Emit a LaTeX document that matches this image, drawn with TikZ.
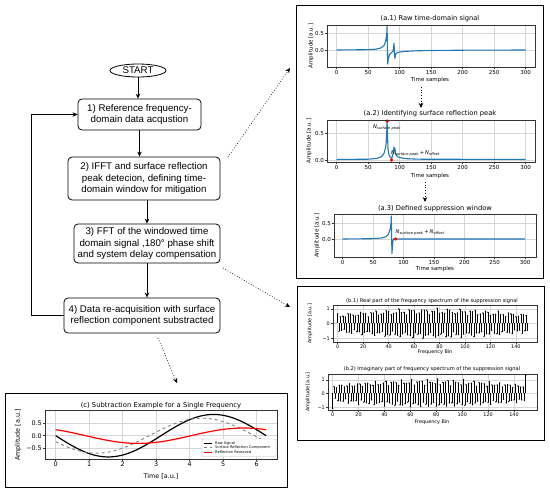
\documentclass[tikz,border=0pt]{standalone}
\usepackage{fontspec}
\setmainfont{Liberation Sans}
\newfontfamily\mpl{DejaVu Sans}
\usetikzlibrary{shapes.geometric,arrows.meta}
\definecolor{mplblue}{HTML}{1F77B4}
\definecolor{gridc}{gray}{0.84}
\begin{document}
\begin{tikzpicture}[x=1pt,y=-1pt,
  fbox/.style={draw, line width=0.8pt, rounded corners=4pt, align=center, font=\fontsize{9.7}{11.7}\selectfont, inner sep=1pt},
  flow/.style={-{Stealth[length=5pt,width=4.5pt]}, line width=0.8pt},
  dotarrow/.style={dotted, line width=0.7pt, -{Stealth[length=5pt,width=4.5pt]}},
  panel/.style={draw, line width=0.9pt},
  axbox/.style={draw=black!80, line width=0.6pt},
  gridl/.style={draw=gridc, line width=0.5pt},
  tma/.style={draw=black!80, line width=0.5pt},
  ttla/.style={font=\mpl\fontsize{6.7}{8}\selectfont, inner sep=0pt},
  ttlb/.style={font=\mpl\fontsize{5.1}{6}\selectfont, inner sep=0pt},
  ttlc/.style={font=\mpl\fontsize{6.8}{8}\selectfont, inner sep=0pt},
  ticka/.style={font=\mpl\fontsize{5.5}{6}\selectfont, inner sep=0.5pt},
  tickb/.style={font=\mpl\fontsize{4.9}{5.5}\selectfont, inner sep=0.5pt},
  tickc/.style={font=\mpl\fontsize{6.4}{7}\selectfont, inner sep=0.5pt},
  leg/.style={font=\mpl\fontsize{3.6}{4}\selectfont, inner sep=0pt, anchor=west},
  nlab/.style={font=\mpl\itshape\fontsize{5.2}{6}\selectfont, inner sep=0pt},
  stem/.style={draw=black, line width=0.55pt}
]
\useasboundingbox (0,0) rectangle (550,491);

% ---------------- flowchart ----------------
\node[ellipse, draw, line width=0.8pt, minimum width=56pt, minimum height=13pt, inner sep=0pt, font=\fontsize{9.7}{11.7}\selectfont] (start) at (138,70.5) {START};
\node[fbox, minimum width=123pt, minimum height=31pt] (b1) at (139.5,114.5) {1) Reference frequency-\\domain data acqustion};
\node[fbox, minimum width=152pt, minimum height=43pt] (b2) at (144,178.5) {2) IFFT and surface reflection\\peak detecion, defining time-\\domain window for mitigation};
\node[fbox, minimum width=146pt, minimum height=39pt] (b3) at (147,243.5) {3) FFT of the windowed time\\domain signal ,180° phase shift\\and system delay compensation};
\node[fbox, minimum width=156pt, minimum height=35pt] (b4) at (142,315.5) {4) Data re-acquisition with surface\\reflection component substracted};

\draw[flow] (start.south) -- (start.south |- b1.north);
\draw[flow] (b1.south) -- (b1.south |- b2.north);
\draw[flow] (b3.north |- b2.south) -- (b3.north);
\draw[flow] (b3.south) -- (b3.south |- b4.north);
\draw[flow] (b4.west) -- ++(-32,0) |- (b1.west);

% ---------------- panels ----------------
\draw[panel] (296,5) rectangle (543,278);
\draw[panel] (297,286) rectangle (544,440);
\draw[panel] (5,393) rectangle (287,487);

% dotted connectors
\coordinate (d1s) at (228,157); \coordinate (d1e) at (290,68);
\coordinate (d2s) at (223,268); \coordinate (d2e) at (290,307);
\coordinate (d3s) at (158,338); \coordinate (d3e) at (177,383);
\draw[dotarrow] (d1s) -- (d1e);
\draw[dotarrow] (d2s) -- (d2e);
\draw[dotarrow] (d3s) -- (d3e);
\coordinate (a1s) at (421,87); \coordinate (a1e) at (421,108);
\coordinate (a2s) at (425,182); \coordinate (a2e) at (425,202);
\draw[dotarrow] (a1s) -- (a1e);
\draw[dotarrow] (a2s) -- (a2e);

% ---------------- (a.1) ----------------
\node[ttla] at (430,19) {(a.1) Raw time-domain signal};
\foreach \n in {0,50,...,300} {
  \pgfmathsetmacro\X{336.7+0.63*\n}
  \draw[gridl] (\X,25) -- (\X,67);
  \draw[tma] (\X,67) -- (\X,69);
  \node[ticka, anchor=north] at (\X,69.5) {\n};
}
\foreach \v/\Y in {0.5/33.3, 0.0/50} {
  \draw[gridl] (327,\Y) -- (535,\Y);
  \draw[tma] (325,\Y) -- (327,\Y);
  \node[ticka, anchor=east] at (324.5,\Y) {\v};
}
\begin{scope}[shift={(336.7,50)}, x=0.63pt, y=33.4pt]
\draw[mplblue, line width=1.1pt, line join=round] plot coordinates {(0,0) (50,0.01) (62,0.025) (70,0.06) (75,0.13) (78,0.28) (79.5,0.5) (80,0.72) (80.5,0.0) (81,-0.42) (82,-0.25) (84,-0.13) (87,-0.08) (89.5,-0.03) (91,0.2) (91.7,-0.05) (92.3,-0.25) (93.5,-0.13) (96,-0.08) (100,-0.06) (110,-0.04) (125,-0.025) (150,-0.015) (200,-0.006) (300,0)};
\end{scope}
\draw[axbox] (327,25) rectangle (535,67);
\node[ticka] at (430,80) {Time samples};
\node[ticka, rotate=90] at (311,46) {Amplitude [a.u.]};

% ---------------- (a.2) ----------------
\node[ttla] at (430,114) {(a.2) Identifying surface reflection peak};
\foreach \n in {0,50,...,300} {
  \pgfmathsetmacro\X{336.7+0.63*\n}
  \draw[gridl] (\X,120) -- (\X,162);
  \draw[tma] (\X,162) -- (\X,164);
  \node[ticka, anchor=north] at (\X,164.5) {\n};
}
\foreach \v/\Y in {0.5/133, 0.0/160} {
  \draw[gridl] (327,\Y) -- (535,\Y);
  \draw[tma] (325,\Y) -- (327,\Y);
  \node[ticka, anchor=east] at (324.5,\Y) {\v};
}
\begin{scope}[shift={(336.7,160)}, x=0.63pt, y=54pt]
\draw[mplblue, line width=1.1pt, line join=round] plot coordinates {(0,0.01) (50,0.015) (64,0.03) (71,0.06) (75,0.12) (78,0.25) (79.3,0.45) (80,0.72) (80.7,0.42) (81.5,0.2) (83,0.1) (85,0.05) (87.5,0.03) (89.5,0.12) (91,0.24) (92.5,0.2) (94,0.1) (97,0.06) (102,0.04) (110,0.025) (130,0.015) (300,0.01)};
\fill[red] (80,0.72) circle (1.8pt);
\fill[red] (87,0) circle (1.8pt);
\end{scope}
\draw[axbox] (327,120) rectangle (535,162);
\node[nlab] at (387,127.5) {N\textsubscript{surface peak}};
\node[nlab, anchor=west] at (391,153) {N\textsubscript{surface peak}\,\textup{+}\,N\textsubscript{offset}};
\node[ticka] at (430,176) {Time samples};
\node[ticka, rotate=90] at (309,141) {Amplitude [a.u.]};

% ---------------- (a.3) ----------------
\node[ttla] at (435,209) {(a.3) Defined suppression window};
\foreach \n in {0,50,...,300} {
  \pgfmathsetmacro\X{342.7+0.608*\n}
  \draw[gridl] (\X,214) -- (\X,257);
  \draw[tma] (\X,257) -- (\X,259);
  \node[ticka, anchor=north] at (\X,259.5) {\n};
}
\foreach \v/\Y in {0.5/223, 0.0/239} {
  \draw[gridl] (334,\Y) -- (536,\Y);
  \draw[tma] (332,\Y) -- (334,\Y);
  \node[ticka, anchor=east] at (331.5,\Y) {\v};
}
\begin{scope}[shift={(342.7,239)}, x=0.608pt, y=32pt]
\draw[mplblue, line width=1.1pt, line join=round] plot coordinates {(0,0) (50,0.01) (63,0.03) (71,0.07) (75,0.14) (78,0.3) (79.5,0.5) (80,0.72) (80.5,0.05) (81,-0.45) (82,-0.2) (83,0) (300,0)};
\fill[red] (87,0) circle (1.8pt);
\end{scope}
\draw[axbox] (334,214) rectangle (536,257);
\node[nlab, anchor=west] at (395.5,232.5) {N\textsubscript{surface peak}\,\textup{+}\,N\textsubscript{offset}};
\node[ticka] at (435,269) {Time samples};
\node[ticka, rotate=90] at (317,235.5) {Amplitude [a.u.]};

% ---------------- (b.1) ----------------
\node[ttlb] at (432,300.7) {(b.1) Real part of the frequency spectrum of the suppression signal};
\foreach \k in {0,20,...,140} {
  \pgfmathsetmacro\X{337.7+1.273*\k}
  \draw[gridl] (\X,305) -- (\X,342);
  \draw[tma] (\X,342) -- (\X,344);
  \node[tickb, anchor=north] at (\X,344) {\k};
}
\foreach \v/\Y in {1/309, 0/323.3, −1/338.3} {
  \draw[gridl] (333,\Y) -- (537,\Y);
  \draw[tma] (331,\Y) -- (333,\Y);
  \node[tickb, anchor=east] at (330.5,\Y) {\v};
}
\foreach \k in {0,...,149} {
  \pgfmathsetmacro\X{337.7+1.273*\k}
  \pgfmathsetmacro\V{(1-2*mod(\k,2))*(0.62+0.38*sin(1.208*\k))*(0.8+0.15*cos(37*\k+20)+0.1*cos(97*\k))}
  \pgfmathsetmacro\Y{323.3-14.7*\V}
  \draw[stem] (\X,323.3) -- (\X,\Y);
  \fill (\X,\Y) circle (0.75pt);
}
\draw[axbox] (333,305) rectangle (537,342);
\node[tickb] at (435,352.3) {Frequency Bin};
\node[tickb, rotate=90] at (310,323.5) {Amplitude [a.u.]};

% ---------------- (b.2) ----------------
\node[ttlb] at (432,369.3) {(b.2) Imaginary part of frequency spectrum of the suppression signal};
\foreach \k in {0,20,...,140} {
  \pgfmathsetmacro\X{332.7+1.295*\k}
  \draw[gridl] (\X,374) -- (\X,410);
  \draw[tma] (\X,410) -- (\X,412);
  \node[tickb, anchor=north] at (\X,412) {\k};
}
\foreach \v/\Y in {1/380, 0/393.3, −1/407.7} {
  \draw[gridl] (328,\Y) -- (537,\Y);
  \draw[tma] (326,\Y) -- (328,\Y);
  \node[tickb, anchor=east] at (325.5,\Y) {\v};
}
\foreach \k in {0,...,149} {
  \pgfmathsetmacro\X{332.7+1.295*\k}
  \pgfmathsetmacro\V{ifthenelse(\k==0,-1.1,ifthenelse(\k==149,1.3,(2*mod(\k,2)-1)*(0.6+0.4*sin(1.208*\k))*(0.8+0.15*cos(53*\k+40)+0.1*cos(89*\k))))}
  \pgfmathsetmacro\Y{393.3-13.8*\V}
  \draw[stem] (\X,393.3) -- (\X,\Y);
  \fill (\X,\Y) circle (0.75pt);
}
\draw[axbox] (328,374) rectangle (537,410);
\node[tickb] at (432,422.3) {Frequency Bin};
\node[tickb, rotate=90] at (308,392) {Amplitude [a.u.]};

% ---------------- (c) ----------------
\node[ttlc] at (161,405.7) {(c) Subtraction Example for a Single Frequency};
\foreach \t in {0,...,6} {
  \pgfmathsetmacro\X{55.7+33.5*\t}
  \draw[gridl] (\X,410.7) -- (\X,459.3);
  \draw[tma] (\X,459.3) -- (\X,461.3);
  \node[tickc, anchor=north] at (\X,461.5) {\t};
}
\foreach \v/\Y in {0.5/423.3, 0.0/435.7, −0.5/448.2} {
  \draw[gridl] (45,\Y) -- (277,\Y);
  \draw[tma] (43,\Y) -- (45,\Y);
  \node[tickc, anchor=east] at (42.5,\Y) {\v};
}
\begin{scope}[shift={(55.7,435.7)}, x=33.5pt, y=25pt]
\draw[black, line width=1.2pt] plot[domain=0:6.2832, samples=90, smooth] (\x,{-0.85*sin(\x r)});
\draw[gray, dashed, line width=0.9pt] plot[domain=0:6.2832, samples=90, smooth] (\x,{-0.7*sin((\x+0.35) r)});
\draw[red, line width=1.2pt] plot[domain=0:6.2832, samples=90, smooth] (\x,{-0.85*sin(\x r)+0.7*sin((\x+0.35) r)});
\end{scope}
\draw[axbox] (45,410.7) rectangle (277,459.3);
% legend
\draw[draw=black!25, fill=white, rounded corners=1pt, line width=0.4pt] (202,439) rectangle (276,456.5);
\draw[black, line width=1.2pt] (204,443.3) -- (212,443.3);
\node[leg] at (215,443.3) {Raw Signal};
\draw[gray, dashed, line width=0.9pt] (204,447.7) -- (212,447.7);
\node[leg] at (215,447.7) {Surface Reflection Component};
\draw[red, line width=1.2pt] (204,452.3) -- (212,452.3);
\node[leg] at (215,452.3) {Reflection Removed};
\node[tickc] at (161,476) {Time [a.u.]};
\node[tickc, rotate=90] at (18,435) {Amplitude [a.u.]};
\end{tikzpicture}
\end{document}
